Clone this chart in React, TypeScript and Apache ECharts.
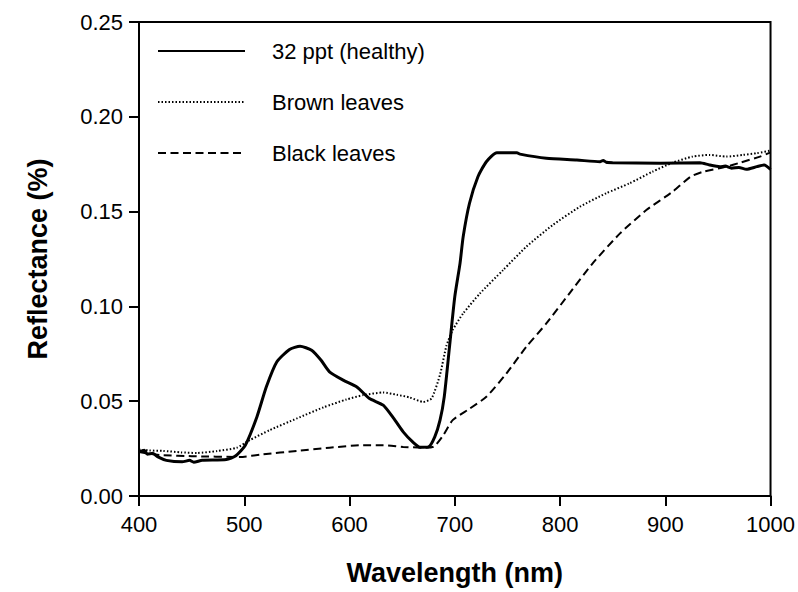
import React, { useEffect, useRef } from "react";
import * as echarts from "echarts";

const healthyWavelength = [400, 405, 408, 413, 418, 426, 441, 448, 452, 460, 483, 492, 501, 512, 521, 531, 543, 553, 564, 573, 581, 594, 607, 619, 632, 642, 651, 660, 667, 675, 681, 686, 690, 695, 700, 705, 708, 714, 722, 730, 740, 759, 762, 787, 816, 838, 841, 844, 850, 895, 933, 942, 952, 957, 963, 970, 977, 987, 994, 1000];
const healthyReflectance = [0.0233, 0.0241, 0.022, 0.0225, 0.0206, 0.0188, 0.018, 0.0188, 0.0178, 0.0188, 0.0192, 0.0212, 0.0268, 0.0417, 0.0576, 0.0708, 0.0773, 0.079, 0.0769, 0.0716, 0.0655, 0.0611, 0.0575, 0.0514, 0.0479, 0.0409, 0.0338, 0.0285, 0.0257, 0.0259, 0.0312, 0.04, 0.0523, 0.0787, 0.105, 0.1227, 0.1368, 0.1544, 0.1684, 0.1763, 0.1811, 0.1811, 0.1803, 0.1781, 0.1772, 0.1763, 0.177, 0.176, 0.1758, 0.1755, 0.1758, 0.1746, 0.1737, 0.174, 0.1729, 0.1733, 0.1723, 0.1737, 0.1746, 0.1723];

const brownWavelength = [400, 410, 423, 440, 455, 474, 493, 505, 524, 550, 575, 597, 613, 632, 645, 657, 670, 678, 686, 692, 698, 708, 724, 746, 768, 793, 819, 844, 866, 888, 907, 926, 942, 958, 974, 987, 1000];
const brownReflectance = [0.0245, 0.024, 0.0238, 0.023, 0.0227, 0.0237, 0.0255, 0.0294, 0.0347, 0.0409, 0.0467, 0.0509, 0.0532, 0.0546, 0.0534, 0.052, 0.0496, 0.0515, 0.064, 0.079, 0.0875, 0.0963, 0.1069, 0.1192, 0.1315, 0.1429, 0.1526, 0.1597, 0.1649, 0.1711, 0.1758, 0.179, 0.1799, 0.179, 0.1799, 0.1808, 0.1822];

const blackWavelength = [400, 410, 423, 450, 496, 518, 550, 581, 613, 632, 651, 670, 680, 689, 698, 714, 730, 749, 768, 787, 809, 831, 857, 882, 907, 924, 936, 958, 971, 990, 1000];
const blackReflectance = [0.0232, 0.0222, 0.0215, 0.021, 0.0206, 0.022, 0.0238, 0.0255, 0.0268, 0.0268, 0.0259, 0.0255, 0.026, 0.032, 0.04, 0.046, 0.0523, 0.0646, 0.0787, 0.091, 0.1069, 0.1227, 0.1385, 0.1508, 0.1605, 0.1684, 0.171, 0.1737, 0.1758, 0.179, 0.1812];

const seriesNames = ["32 ppt (healthy)", "Brown leaves", "Black leaves"];

const zip = (xs: number[], ys: number[]) => xs.map((x, i) => [x, ys[i]]);

const FONT = "Liberation Sans, Arial, sans-serif";

export default function App() {
  const ref = useRef<HTMLDivElement>(null);
  useEffect(() => {
    const chart = echarts.init(ref.current!, null, { renderer: "svg" });
    chart.setOption({
      animation: false,
      backgroundColor: "#ffffff",
      grid: { left: 139, right: 27, top: 22, bottom: 96, show: true, borderColor: "#000", borderWidth: 2 },
      legend: {
        orient: "vertical",
        left: 157,
        top: 40,
        padding: 0,
        itemWidth: 87,
        itemHeight: 14,
        itemGap: 29,
        data: seriesNames,
        itemStyle: { opacity: 0 },
        textStyle: { fontFamily: FONT, fontSize: 22, lineHeight: 22, color: "#000", padding: [0, 0, 0, 22] },
      },
      xAxis: {
        type: "value",
        min: 400,
        max: 1000,
        interval: 100,
        name: "Wavelength (nm)",
        nameLocation: "middle",
        nameGap: 63,
        nameTextStyle: { fontFamily: FONT, fontWeight: "bold", fontSize: 27, color: "#000" },
        axisLine: { lineStyle: { color: "#000", width: 2 } },
        axisTick: { length: 10, lineStyle: { color: "#000", width: 2 } },
        axisLabel: { fontFamily: FONT, fontSize: 22, color: "#000", margin: 17, formatter: (v: number) => String(v) },
        splitLine: { show: false },
      },
      yAxis: {
        type: "value",
        min: 0,
        max: 0.25,
        interval: 0.05,
        name: "Reflectance (%)",
        nameLocation: "middle",
        nameGap: 88,
        nameTextStyle: { fontFamily: FONT, fontWeight: "bold", fontSize: 27, color: "#000" },
        axisLine: { lineStyle: { color: "#000", width: 2 } },
        axisTick: { length: 10, lineStyle: { color: "#000", width: 2 } },
        axisLabel: { fontFamily: FONT, fontSize: 22, color: "#000", margin: 16, formatter: (v: number) => v.toFixed(2) },
        splitLine: { show: false },
      },
      series: [
        {
          name: seriesNames[0],
          type: "line",
          symbol: "none",
          smooth: 0.2,
          data: zip(healthyWavelength, healthyReflectance),
          lineStyle: { color: "#000", width: 3, type: "solid" },
          itemStyle: { color: "#000" },
          z: 3,
        },
        {
          name: seriesNames[1],
          type: "line",
          symbol: "none",
          smooth: 0.2,
          data: zip(brownWavelength, brownReflectance),
          lineStyle: { color: "#000", width: 2, type: [1.5, 2] },
          itemStyle: { color: "#000" },
        },
        {
          name: seriesNames[2],
          type: "line",
          symbol: "none",
          smooth: 0.2,
          data: zip(blackWavelength, blackReflectance),
          lineStyle: { color: "#000", width: 2, type: [8, 4.5] },
          itemStyle: { color: "#000" },
        },
      ],
    });
    return () => chart.dispose();
  }, []);
  return <div ref={ref} style={{ position: "fixed", left: 0, top: 0, width: 798, height: 592, background: "#fff" }} />;
}
